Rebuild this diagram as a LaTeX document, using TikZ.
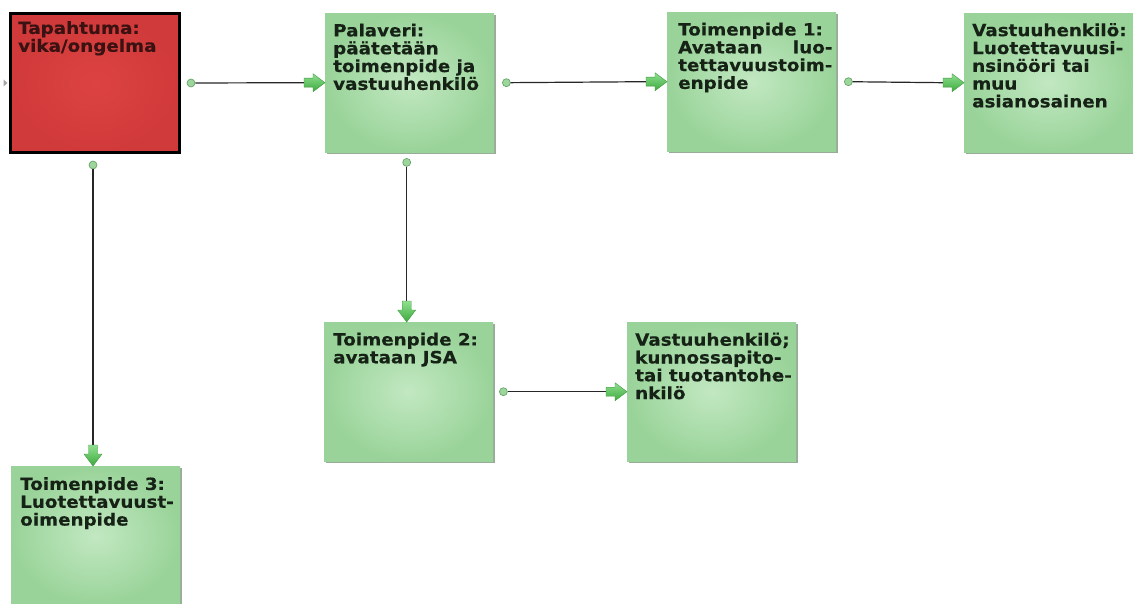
\documentclass[tikz,border=0pt]{standalone}
\usepackage{fontspec}
\usepackage{calc}
\newfontfamily\boxfont{DejaVu Sans}[FakeStretch=1.09, BoldFeatures={FakeBold=0.3}]
\usetikzlibrary{calc,shadows}

\definecolor{boxin}{HTML}{C2E8C2}
\definecolor{boxout}{HTML}{99D399}
\definecolor{boxshadow}{HTML}{7E987E}
\definecolor{redin}{HTML}{DC4242}
\definecolor{redout}{HTML}{D13A3A}
\definecolor{txtdark}{HTML}{162216}
\definecolor{redtxt}{HTML}{3A1212}
\definecolor{dotfill}{HTML}{9CD69C}
\definecolor{dotedge}{HTML}{5E9E5E}
\definecolor{arrtop}{HTML}{8FE08F}
\definecolor{arrbot}{HTML}{3DAA3D}
\definecolor{arredge}{HTML}{3C963C}

\tikzset{
  gbox/.style={anchor=north west, minimum width=169pt, minimum height=139pt,
    inner sep=0pt, inner color=boxin, outer color=boxout,
    drop shadow={shadow xshift=2pt, shadow yshift=-2pt, fill=boxshadow, opacity=0.8}},
  rbox/.style={anchor=north west, minimum width=169pt, minimum height=139pt,
    inner sep=0pt, inner color=redin, outer color=redout, draw=black, line width=3pt},
  txt/.style={anchor=north west, inner sep=0pt, align=left,
    font=\boxfont\bfseries\fontsize{16.8pt}{17.8pt}\selectfont, text=txtdark},
  conn/.style={draw=black!85, line width=1.2pt},
  dot/.style={circle, inner sep=0pt, minimum size=8pt, fill=dotfill, draw=dotedge, line width=0.6pt},
  barrow/.pic={\shade[top color=arrtop, bottom color=arrbot, draw=arredge, line width=0.4pt]
    (0,0) -- (-12,9) -- (-12,4.5) -- (-21,4.5) -- (-21,-4.5) -- (-12,-4.5) -- (-12,-9) -- cycle;}
}

\begin{document}
\begin{tikzpicture}[x=1pt,y=1pt]
\useasboundingbox (0,0) rectangle (1133,-604);

% boxes
\node[rbox] (red) at (9,-12) {};
\node[gbox] (pal) at (325,-13) {};
\node[gbox] (t1)  at (667,-12) {};
\node[gbox] (v1)  at (964,-13) {};
\node[gbox] (t2)  at (324,-322) {};
\node[gbox] (v2)  at (627,-322) {};
\node[gbox] (t3)  at (11,-466) {};

% box texts
\node[txt, text=redtxt] (red-t) at ($(red.north west)+(9,-9)$) {Tapahtuma:\\vika/ongelma};
\node[txt] (pal-t) at ($(pal.north west)+(8,-10.5)$) {Palaveri:\\päätetään\\toimenpide ja\\vastuuhenkilö};
\node[txt] (t1-t) at ($(t1.north west)+(11,-10.5)$)
  {Toimenpide 1:\\\makebox[\widthof{tettavuustoim-}][l]{Avataan\hfill luo-}\\tettavuustoim-\\enpide};
\node[txt] (v1-t) at ($(v1.north west)+(8,-10)$) {Vastuuhenkilö:\\Luotettavuusi-\\nsinööri tai\\muu\\asianosainen};
\node[txt] (t2-t) at ($(t2.north west)+(9,-10.5)$) {Toimenpide 2:\\avataan JSA};
\node[txt] (v2-t) at ($(v2.north west)+(8,-10.5)$) {Vastuuhenkilö;\\kunnossapito-\\tai tuotantohe-\\nkilö};
\node[txt] (t3-t) at ($(t3.north west)+(9,-11)$) {Toimenpide 3:\\Luotettavuust-\\oimenpide};

% small incoming tip on the left of the event box
\fill[gray!70] ($(red.west)+(-1.5,0)$) -- ++(-4,3.5) -- ++(0,-7) -- cycle;

% connector start points
\node[dot] (d1) at ($(red.east)+(10,0)$) {};
\node[dot] (d2) at ($(pal.east)+(12,0)$) {};
\node[dot] (d3) at ($(t1.east)+(12,0)$) {};
\node[dot] (d4) at ($(pal.south)+(-3,-10)$) {};
\node[dot] (d5) at ($(red.south)+(-2,-11)$) {};
\node[dot] (d6) at ($(t2.east)+(10,0)$) {};

% connectors
\draw[conn] (d1) -- ($(pal.west)+(-21,0)$);
\draw[conn] (d2) -- ($(t1.west)+(-21,0)$);
\draw[conn] (d3) -- ($(v1.west)+(-21,0)$);
\draw[conn] (d4) -- ($(d4 |- t2.north)+(0,21)$);
\draw[conn] (d5) -- ($(d5 |- t3.north)+(0,21)$);
\draw[conn] (d6) -- ($(v2.west)+(-21,0)$);

% arrow heads
\pic at (pal.west) {barrow};
\pic at (t1.west) {barrow};
\pic at (v1.west) {barrow};
\pic[rotate=-90] at (d4 |- t2.north) {barrow};
\pic[rotate=-90] at (d5 |- t3.north) {barrow};
\pic at (v2.west) {barrow};
\end{tikzpicture}
\end{document}
